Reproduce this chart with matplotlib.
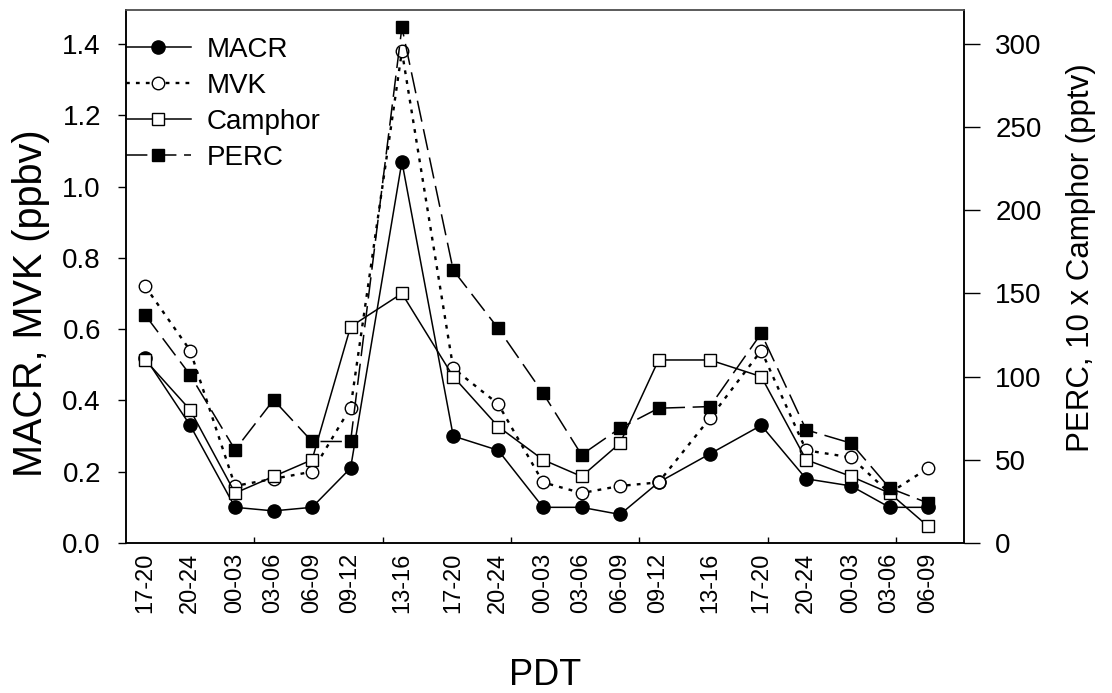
import matplotlib
matplotlib.use("Agg")
import matplotlib.pyplot as plt
from matplotlib.ticker import FormatStrFormatter

plt.rcParams['font.family'] = ['Liberation Sans', 'DejaVu Sans']

# sampling periods (PDT) and their mid-times in hours from the start of day 1
periods = ["17-20", "20-24", "00-03", "03-06", "06-09", "09-12", "13-16",
           "17-20", "20-24", "00-03", "03-06", "06-09", "09-12", "13-16",
           "17-20", "20-24", "00-03", "03-06", "06-09"]
hours = [18.5, 22, 25.5, 28.5, 31.5, 34.5, 38.5,
         42.5, 46, 49.5, 52.5, 55.5, 58.5, 62.5,
         66.5, 70, 73.5, 76.5, 79.5]

# left axis, ppbv
macr = [0.52, 0.33, 0.10, 0.09, 0.10, 0.21, 1.07,
        0.30, 0.26, 0.10, 0.10, 0.08, 0.17, 0.25,
        0.33, 0.18, 0.16, 0.10, 0.10]
mvk = [0.72, 0.54, 0.16, 0.18, 0.20, 0.38, 1.38,
       0.49, 0.39, 0.17, 0.14, 0.16, 0.17, 0.35,
       0.54, 0.26, 0.24, 0.14, 0.21]

# right axis, pptv (camphor given as 10 x value)
camphor = [110, 80, 30, 40, 50, 130, 150,
           100, 70, 50, 40, 60, 110, 110,
           100, 50, 40, 30, 10]
perc = [137, 101, 56, 86, 61, 61, 310,
        164, 129, 90, 53, 69, 81, 82,
        126, 68, 60, 33, 24]


fig = plt.figure(figsize=(11.12, 6.93), dpi=100)
ax = fig.add_axes([0.1133, 0.2165, 0.7536, 0.7691])
ax2 = ax.twinx()

l1, = ax.plot(hours, macr, color='k', lw=1.1, marker='o', ms=9.5,
              mfc='k', mec='k', label='MACR')
l2, = ax.plot(hours, mvk, color='k', lw=1.7, ls=(0, (1.6, 2.6)), marker='o',
              ms=9, mfc='white', mec='k', mew=1.0, label='MVK')
l3, = ax2.plot(hours, camphor, color='k', lw=1.1, marker='s', ms=8,
               mfc='white', mec='k', mew=1.0, label='Camphor')
l4, = ax2.plot(hours, perc, color='k', lw=1.1, ls=(0, (14, 5)), marker='s',
               ms=8, mfc='k', mec='k', label='PERC')

# axes ranges
ax.set_xlim(17, 82.3)
ax.set_ylim(0, 1.4955)
ax2.set_ylim(0, 320.4)

ax.set_yticks([0, 0.2, 0.4, 0.6, 0.8, 1.0, 1.2, 1.4])
ax.yaxis.set_major_formatter(FormatStrFormatter('%.1f'))
ax2.set_yticks([0, 50, 100, 150, 200, 250, 300])

ax.set_xticks(hours)
ax.set_xticklabels(periods, rotation=90, fontsize=17)
ax.set_xticks([27, 37, 47, 57, 67, 77], minor=True)
ax.tick_params(axis='x', which='major', length=0, pad=7)
ax.tick_params(axis='x', which='minor', direction='in', length=4, width=1)
ax.tick_params(axis='y', direction='out', length=6, width=1, labelsize=20, pad=12)
ax2.tick_params(axis='y', direction='out', length=11.5, width=1, labelsize=20, pad=11)

for a in (ax, ax2):
    a.spines['top'].set_color('#555555')
    for s in ('left', 'right', 'bottom'):
        a.spines[s].set_color('k')
    for s in a.spines.values():
        s.set_linewidth(1.1)

fig.text(0.028, 0.563, "MACR, MVK (ppbv)", rotation=90, ha='center',
         va='center', fontsize=28.5)
fig.text(0.972, 0.628, "PERC, 10 x Camphor (pptv)", rotation=90, ha='center',
         va='center', fontsize=22.5)
fig.text(0.49, 0.012, "PDT", ha='center', va='baseline', fontsize=26)

ax2.legend(handles=[l1, l2, l3, l4], loc='upper left',
           bbox_to_anchor=(0.0, 0.949), frameon=False, fontsize=20,
           borderpad=0, borderaxespad=0, handlelength=2.34,
           handletextpad=0.58, labelspacing=0.36, numpoints=1)

fig.savefig("out.png", dpi=100)
